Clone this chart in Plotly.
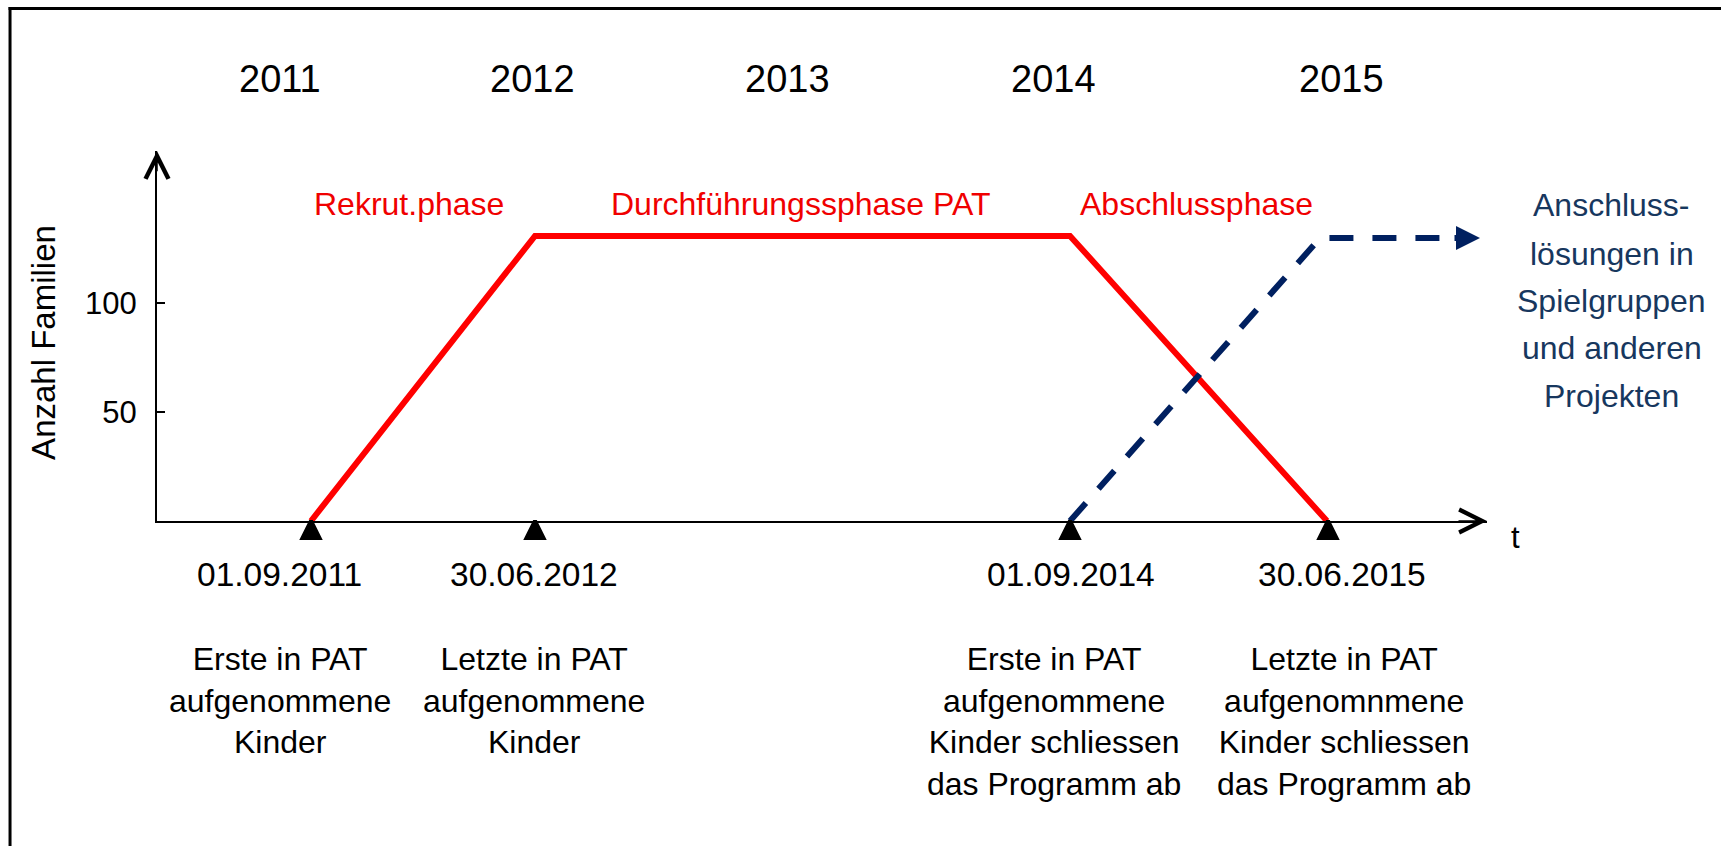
import plotly.graph_objects as go

# ---------------- data ----------------
milestone_dates = ["01.09.2011", "30.06.2012", "01.09.2014", "30.06.2015"]
milestone_t = [154, 378, 913, 1171]          # schematic time position
milestone_texts = [
    "Erste in PAT<br>aufgenommene<br>Kinder",
    "Letzte in PAT<br>aufgenommene<br>Kinder",
    "Erste in PAT<br>aufgenommene<br>Kinder schliessen<br>das Programm ab",
    "Letzte in PAT<br>aufgenomnmene<br>Kinder schliessen<br>das Programm ab",
]
pat_t = [154, 378, 913, 1170]
pat_families = [0, 131, 131, 0]
follow_t = [913, 1163, 1296]
follow_families = [0, 130, 130]
years = ["2011", "2012", "2013", "2014", "2015"]
phase_labels = ["Rekrut.phase", "Durchführungssphase PAT", "Abschlussphase"]
follow_label_lines = ["Anschluss-", "lösungen in", "Spielgruppen", "und anderen", "Projekten"]
y_ticks = [50, 100]
y_title = "Anzahl Familien"
x_title = "t"

# ---------------- layout constants ----------------
FONT = "Liberation Sans, Arial, sans-serif"
RED = "#FF0000"
RED_TXT = "#F00000"
NAVY = "#002060"
NAVY_TXT = "#17375E"
W, H = 1721, 846
ML, MR, MT, MB = 157, 234, 151, 325
X_RANGE = [0, 1330]
Y_RANGE = [0, 170]

year_x = [123, 375, 630, 896, 1184]
year_y = 203
phase_x = [252, 643, 1039]
phase_y = 145.7
date_x = [122, 377, 914, 1185]
date_y = -24.4
desc_x = [123, 377, 897, 1187]
desc_y = [-82.7, -82.7, -92.1, -92.1]
follow_x = 1455
follow_y = [145.2, 122.7, 101.1, 79.5, 57.4]


def px(v):
    return (v - X_RANGE[0]) / (X_RANGE[1] - X_RANGE[0])


def py(v):
    return (v - Y_RANGE[0]) / (Y_RANGE[1] - Y_RANGE[0])


fig = go.Figure()

# PAT programme (red)
fig.add_trace(go.Scatter(
    x=pat_t, y=pat_families, mode="lines",
    line=dict(color=RED, width=6), cliponaxis=False,
    hoverinfo="skip", showlegend=False))

# follow-up solutions (navy dashed)
fig.add_trace(go.Scatter(
    x=follow_t, y=follow_families, mode="lines",
    line=dict(color=NAVY, width=6, dash="24px,19px"), cliponaxis=False,
    hoverinfo="skip", showlegend=False))

# milestone markers
fig.add_trace(go.Scatter(
    x=milestone_t, y=[0] * len(milestone_t), mode="markers",
    marker=dict(symbol="arrow-up", size=17, color="black",
                line=dict(color="black", width=4)),
    cliponaxis=False, hoverinfo="skip", showlegend=False))


def txt_ann(text, x, y, size, color, **kw):
    d = dict(x=px(x), y=py(y), xref="paper", yref="paper", text=text, showarrow=False,
             xanchor="center", yanchor="middle", align="center",
             font=dict(size=size, color=color, family=FONT))
    d.update(kw)
    return d


ann = []
for t, xv in zip(years, year_x):
    ann.append(txt_ann(t, xv, year_y, 38, "black"))
for t, xv in zip(phase_labels, phase_x):
    ann.append(txt_ann(t, xv, phase_y, 32, RED_TXT))
for t, xv in zip(milestone_dates, date_x):
    ann.append(txt_ann(t, xv, date_y, 33.5, "black"))
for t, xv, yv in zip(milestone_texts, desc_x, desc_y):
    ann.append(txt_ann(t, xv, yv, 32, "black"))
for t, yv in zip(follow_label_lines, follow_y):
    ann.append(txt_ann(t, follow_x, yv, 32, NAVY_TXT))
# axis titles
ann.append(txt_ann(x_title, 1358, -7.8, 31, "black"))
ann.append(txt_ann(y_title, -113, 82.3, 33, "black", textangle=-90))
# axis arrow heads (open chevrons)
ann.append(dict(x=X_RANGE[1], y=0, ax=X_RANGE[1] - 30, ay=0, xref="x", yref="y",
                axref="x", ayref="y", text="", showarrow=True, arrowhead=5,
                arrowsize=3, arrowwidth=1.5, arrowcolor="black"))
ann.append(dict(x=0, y=Y_RANGE[1], ax=0, ay=Y_RANGE[1] - 10, xref="x", yref="y",
                axref="x", ayref="y", text="", showarrow=True, arrowhead=5,
                arrowsize=3, arrowwidth=1.5, arrowcolor="black"))
# follow-up arrow head
ann.append(dict(x=follow_t[-1] + 27, y=follow_families[-1], ax=follow_t[-1], ay=follow_families[-1],
                xref="x", yref="y", axref="x", ayref="y", text="", showarrow=True,
                arrowhead=2, arrowsize=0.8, arrowwidth=6, arrowcolor=NAVY))

# frame (left and top border of the picture)
shapes = [
    dict(type="line", xref="paper", yref="paper", x0=-0.1105, x1=-0.1105, y0=-0.9, y1=1.389,
         line=dict(color="black", width=3)),
    dict(type="line", xref="paper", yref="paper", x0=-0.1116, x1=1.2, y0=1.385, y1=1.385,
         line=dict(color="black", width=3)),
]

fig.update_layout(
    width=W, height=H, autosize=False,
    margin=dict(l=ML, r=MR, t=MT, b=MB, pad=0),
    paper_bgcolor="white", plot_bgcolor="white",
    font=dict(family=FONT, size=31, color="black"),
    annotations=ann, shapes=shapes, showlegend=False,
    xaxis=dict(range=X_RANGE, showgrid=False, zeroline=False, showline=True,
               linecolor="black", linewidth=2, ticks="", showticklabels=False,
               fixedrange=True),
    yaxis=dict(range=Y_RANGE, showgrid=False, zeroline=False, showline=True,
               linecolor="black", linewidth=2, ticks="inside", ticklen=8, tickwidth=2,
               tickcolor="black", tickvals=y_ticks, ticklabelstandoff=12,
               tickfont=dict(size=31, color="black", family=FONT), fixedrange=True),
)

fig.write_html("out.html", config={"displayModeBar": False},
               post_script="document.body.style.margin='0';document.body.style.overflow='hidden';")
